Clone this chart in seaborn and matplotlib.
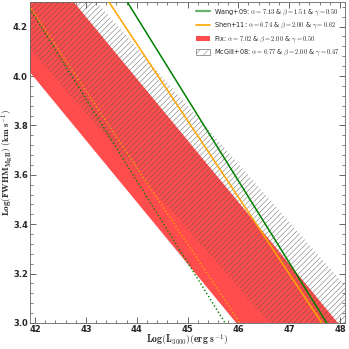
import numpy as np
import pandas as pd
import matplotlib
matplotlib.use("Agg")
import matplotlib.pyplot as plt
import seaborn as sns
from matplotlib.ticker import MultipleLocator
from matplotlib.patches import Patch
from matplotlib.lines import Line2D

# relation parameters: log M = alpha + beta*log(FWHM/1000) + gamma*log(L3000/1e44)
models = ['Wang+09', 'Shen+11', 'Fix', 'McGill+08']
alpha = [7.13, 6.74, 7.02, 6.77]
beta = [1.51, 2.00, 2.00, 2.00]
gamma = [0.50, 0.62, 0.50, 0.47]
mass_lo = 8.0
mass_hi = 9.0
logL = [41.5, 48.5]
xticks = [42, 43, 44, 45, 46, 47, 48]
yticks = [3.0, 3.2, 3.4, 3.6, 3.8, 4.0, 4.2]

sns.set_style("ticks")
plt.rcParams['mathtext.fontset'] = 'cm'
plt.rcParams['hatch.linewidth'] = 0.3

def fwhm(logm, a, b, g, L):
    L = np.asarray(L)
    return 3.0 + (logm - a - g * (L - 44.0)) / b

rows = []
for m, a, b, g in zip(models, alpha, beta, gamma):
    for lm, tag in [(mass_lo, 'lo'), (mass_hi, 'hi')]:
        for L in logL:
            rows.append(dict(model=m, mass=tag, logL=L, logFWHM=float(fwhm(lm, a, b, g, L))))
df = pd.DataFrame(rows)

fig = plt.figure(figsize=(3.49, 3.49), dpi=100)
ax = fig.add_axes([0.086, 0.0745, 0.9026, 0.92])

i = models.index('Fix')
ax.fill_between(logL, fwhm(mass_lo, alpha[i], beta[i], gamma[i], logL),
                fwhm(mass_hi, alpha[i], beta[i], gamma[i], logL),
                color='#ff4d4d', lw=0, zorder=1)
i = models.index('McGill+08')
ax.fill_between(logL, fwhm(mass_lo, alpha[i], beta[i], gamma[i], logL),
                fwhm(mass_hi, alpha[i], beta[i], gamma[i], logL),
                facecolor='none', edgecolor='0.3', hatch='//////', lw=0, zorder=2)

cols = {'Wang+09': 'green', 'Shen+11': 'orange'}
for m in ['Wang+09', 'Shen+11']:
    d = df[(df.model == m) & (df.mass == 'hi')]
    sns.lineplot(data=d, x='logL', y='logFWHM', color=cols[m], lw=1.1, ax=ax, zorder=3)
    d = df[(df.model == m) & (df.mass == 'lo')]
    sns.lineplot(data=d, x='logL', y='logFWHM', color=cols[m], lw=1.0, ls=':',
                 ax=ax, zorder=3)

ax.set_xlim(41.9, 48.1)
ax.set_ylim(3.0, 4.3)
ax.set_xticks(xticks)
ax.set_yticks(yticks)
ax.set_xticklabels([str(t) for t in xticks], fontsize=6, fontweight='bold')
ax.set_yticklabels(['%.1f' % t for t in yticks], fontsize=6, fontweight='bold')
ax.xaxis.set_minor_locator(MultipleLocator(0.2))
ax.yaxis.set_minor_locator(MultipleLocator(0.04))
ax.tick_params(which='both', direction='in', top=True, right=True, pad=1.5,
               color='0.3')
ax.tick_params(which='major', length=4, width=0.6)
ax.tick_params(which='minor', length=2, width=0.5)
for s in ax.spines.values():
    s.set_linewidth(0.6)
    s.set_color('0.4')

ax.set_xlabel(r'$\mathbf{Log(L_{3000})(erg\ s^{-1})}$', fontsize=7)
ax.set_ylabel(r'$\mathbf{Log(FWHM_{MgII})\ (km\ s^{-1})}$', fontsize=6.6)
ax.xaxis.set_label_coords(0.5, -0.03)
ax.yaxis.set_label_coords(-0.049, 0.5)

handles = [Line2D([], [], color='green', alpha=0.6, lw=1.6),
           Line2D([], [], color='orange', lw=1.2),
           Patch(facecolor='#ff4d4d', edgecolor='none'),
           Patch(facecolor='white', edgecolor='0.45', hatch='////', lw=0.5)]
labels = [r'Wang+09: $\alpha=7.13$ & $\beta=1.51$ & $\gamma=0.50$',
          r'Shen+11: $\alpha=6.74$ & $\beta=2.00$ & $\gamma=0.62$',
          r'Fix: $\alpha=7.02$ & $\beta=2.00$ & $\gamma=0.50$',
          r'McGill+08: $\alpha=6.77$ & $\beta=2.00$ & $\gamma=0.47$']
ax.legend(handles, labels, loc='upper right', frameon=False, fontsize=4.7,
          handlelength=2.2, handleheight=0.9, borderaxespad=0.4,
          labelspacing=0.45, handletextpad=0.6)

fig.savefig('out.png', dpi=100)
